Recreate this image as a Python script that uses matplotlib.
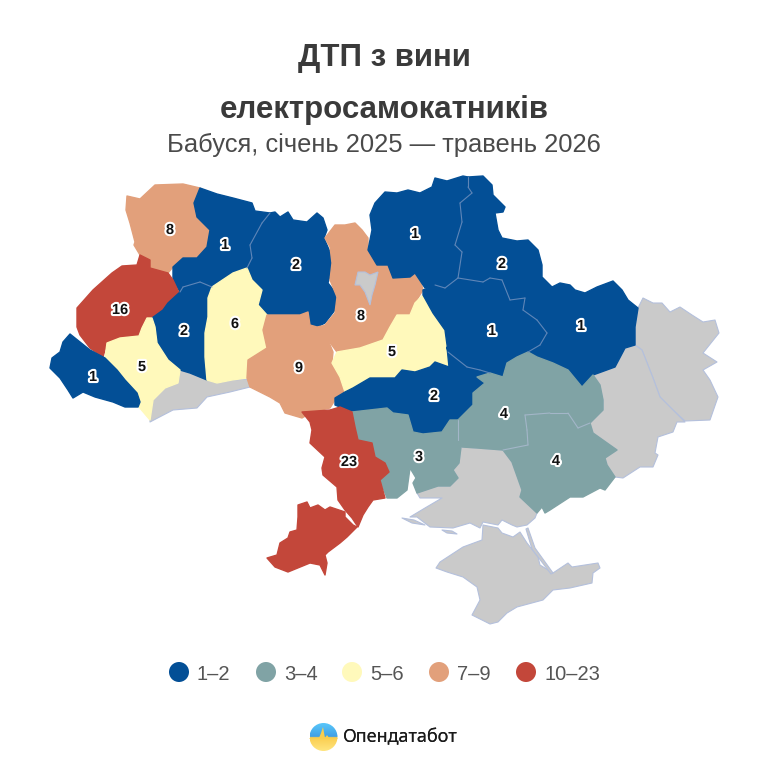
import numpy as np
import matplotlib
matplotlib.use("Agg")
import matplotlib.pyplot as plt
from matplotlib.patches import Polygon, Circle
import matplotlib.patheffects as pe

TITLE = ["ДТП з вини", "електросамокатників"]
SUBTITLE = "Бабуся, січень 2025 — травень 2026"
LEGEND_LABELS = ["1–2", "3–4", "5–6", "7–9", "10–23"]
LEGEND_COLORS = ["#034F96", "#80A3A5", "#FFF9BB", "#E2A07B", "#C3473A"]
INNER_EDGE = ["#5F86B8", "#A3B6C8", "#E8E4B0", "#D9A98C", "#C86A5E"]
NO_DATA = "#CACACA"
EDGE = "#B4C0DC"

# Region outlines (map coordinates)
volyn = [(155,185),(183,184),(200,188),(194,203),(197,217),(210,230),(207,247),(197,258),(183,258),(173,267),(168,273),(150,268),(150,260),(140,255),(134,245),(135,242),(130,223),(126,210),(127,196),(140,199)]
rivne = [(200,188),(217,194),(233,198),(252,203),(255,211),(270,213),(262,223),(250,245),(252,258),(247,268),(233,273),(212,287),(200,282),(183,287),(180,292),(173,280),(173,267),(183,258),(197,258),(207,247),(210,230),(197,217),(194,203)]
zhytomyr = [(270,213),(275,212),(280,217),(288,212),(293,220),(307,222),(317,213),(323,218),(327,230),(324,238),(330,252),(333,265),(328,283),(335,292),(337,302),(335,310),(325,323),(317,327),(310,325),(308,312),(300,315),(267,315),(258,305),(262,290),(252,280),(247,268),(252,258),(250,245),(262,223)]
lviv = [(140,255),(150,260),(150,268),(168,273),(173,280),(180,295),(168,303),(163,310),(152,318),(142,328),(139,336),(120,338),(107,343),(103,357),(90,348),(80,335),(77,327),(77,308),(93,290),(112,273),(122,266),(137,265)]
ternopil = [(180,292),(183,287),(200,282),(212,287),(208,298),(208,317),(205,333),(205,357),(207,380),(190,373),(180,370),(168,360),(157,343),(155,327),(152,318),(163,310),(168,303)]
frankivsk = [(142,328),(147,318),(152,318),(155,327),(157,343),(168,360),(180,370),(178,383),(165,388),(153,400),(150,420),(139,407),(137,393),(125,380),(117,370),(105,358),(107,343),(120,338),(139,336)]
zakarpattia = [(70,334),(80,342),(90,350),(105,358),(117,370),(125,380),(137,393),(140,402),(138,407),(125,407),(113,402),(95,397),(83,392),(73,398),(68,390),(60,378),(50,368),(52,358),(60,352),(63,342)]
chernivtsi = [(180,370),(190,373),(207,380),(217,383),(232,380),(248,379),(250,387),(230,392),(207,397),(197,408),(173,410),(150,422),(150,403),(165,388),(178,383)]
khmelnytskyi = [(247,268),(252,280),(262,290),(258,305),(267,315),(263,330),(267,348),(248,360),(247,378),(232,380),(217,383),(207,380),(205,357),(205,333),(208,317),(208,298),(212,287),(233,273)]
vinnytsia = [(267,315),(300,315),(308,312),(310,325),(317,327),(327,325),(328,340),(333,352),(332,362),(340,373),(345,392),(335,400),(330,408),(312,412),(302,418),(285,413),(280,403),(270,397),(250,387),(247,378),(248,360),(267,348),(263,330)]
kyiv_obl = [(325,238),(335,225),(345,225),(355,223),(362,230),(368,238),(368,250),(377,265),(388,265),(393,278),(410,277),(415,273),(420,278),(423,290),(415,303),(410,315),(397,315),(390,327),(383,340),(360,348),(337,352),(328,340),(325,325),(335,313),(337,297),(330,280),(332,263),(330,247)]
kyiv_city = [(355,285),(358,272),(365,272),(370,275),(378,272),(375,285),(372,295),(370,305),(365,292),(360,285)]
cherkasy = [(423,295),(433,313),(445,330),(447,347),(449,367),(435,362),(430,367),(415,372),(402,370),(395,378),(370,378),(353,388),(345,392),(340,377),(332,363),(337,352),(360,348),(383,340),(390,327),(397,315),(410,315),(415,303)]
chernihiv = [(435,178),(447,181),(463,176),(468,177),(468,187),(472,193),(460,203),(462,222),(455,245),(462,252),(458,278),(445,288),(435,285),(425,288),(415,273),(410,277),(393,278),(388,265),(377,265),(368,250),(372,230),(370,215),(375,203),(385,192),(397,193),(408,190),(420,193),(432,187)]
sumy = [(468,177),(483,176),(492,185),(493,195),(505,207),(503,212),(495,213),(498,230),(502,238),(517,241),(528,240),(538,250),(542,265),(542,277),(552,287),(527,298),(510,300),(502,280),(490,278),(483,282),(458,278),(462,252),(455,245),(462,222),(460,203),(472,193),(468,187)]
poltava = [(423,290),(435,285),(445,288),(458,278),(483,282),(490,278),(502,280),(510,300),(525,298),(523,310),(537,320),(547,333),(540,345),(528,352),(517,357),(507,363),(503,377),(490,373),(480,370),(467,367),(448,352),(445,330),(433,313),(423,295)]
kharkiv = [(510,300),(525,298),(552,287),(560,283),(570,285),(575,290),(585,293),(597,287),(613,281),(622,290),(628,300),(638,308),(635,327),(635,345),(625,348),(615,367),(593,375),(582,387),(568,370),(553,363),(537,357),(528,352),(540,345),(547,333),(537,320),(523,310),(525,298)]
kirovohrad = [(447,347),(448,352),(467,367),(480,370),(490,373),(477,377),(485,383),(473,393),(473,405),(458,420),(450,420),(442,432),(423,434),(413,432),(408,415),(393,413),(387,408),(352,412),(335,405),(335,398),(345,392),(353,388),(370,378),(395,378),(402,370),(415,372),(430,367),(435,362),(449,367)]
dnipro = [(528,352),(517,357),(507,363),(503,377),(490,373),(477,377),(485,383),(473,393),(473,405),(458,420),(458,440),(462,447),(477,448),(503,450),(528,445),(527,430),(525,415),(550,413),(568,413),(578,428),(590,423),(603,410),(603,400),(600,385),(593,375),(582,387),(568,370),(553,363),(537,357)]
zaporizhzhia = [(528,445),(503,450),(512,462),(522,490),(520,497),(537,513),(542,507),(545,513),(550,510),(570,497),(583,497),(600,488),(605,490),(615,477),(607,465),(605,458),(617,450),(593,433),(590,423),(578,428),(568,413),(550,413),(525,415),(527,430)]
mykolaiv = [(352,412),(387,408),(393,413),(408,415),(413,432),(423,434),(442,432),(450,420),(458,420),(458,440),(461,447),(459,463),(453,470),(458,478),(450,486),(438,486),(417,493),(413,483),(416,478),(410,468),(407,490),(397,498),(387,498),(380,480),(389,472),(385,463),(375,457),(372,443),(358,440),(355,427)]
odesa_north = [(302,412),(330,410),(340,407),(352,412),(355,427),(358,440),(372,443),(375,457),(385,463),(389,472),(380,480),(385,498),(373,500),(368,507),(363,515),(358,527),(352,518),(345,510),(338,500),(337,487),(323,475),(322,468),(325,457),(310,443),(312,430),(310,422)]
odesa_south = [(298,505),(307,502),(310,508),(318,505),(325,510),(330,507),(345,512),(345,517),(353,525),(357,527),(347,537),(340,543),(328,552),(325,555),(327,563),(325,575),(320,565),(310,563),(288,572),(275,567),(267,558),(277,555),(280,543),(288,538),(290,532),(297,530),(298,517)]
kherson = [(461,447),(477,448),(503,450),(512,462),(522,490),(520,497),(537,513),(535,518),(527,525),(517,527),(512,525),(502,520),(498,525),(483,522),(480,528),(470,523),(453,528),(430,527),(417,517),(410,517),(425,508),(442,498),(420,498),(417,493),(438,486),(450,486),(458,478),(453,470),(459,463)]
crimea = [(483,525),(498,528),(502,533),(513,537),(520,532),(527,543),(538,557),(540,565),(553,573),(568,563),(572,567),(598,563),(600,568),(593,573),(592,583),(570,588),(553,590),(543,600),(517,607),(507,613),(498,622),(490,624),(472,615),(480,600),(477,587),(463,577),(447,572),(436,568),(440,562),(463,547),(482,540)]
luhansk = [(643,298),(653,303),(662,303),(670,312),(680,307),(692,315),(703,322),(715,320),(719,333),(703,353),(717,362),(703,370),(710,380),(718,397),(710,420),(685,421),(673,410),(660,397),(653,378),(642,350),(635,345),(635,327),(638,308)]
donetsk = [(635,345),(642,350),(653,378),(660,397),(673,410),(685,422),(677,422),(673,432),(658,437),(655,453),(658,455),(653,467),(640,467),(623,478),(615,477),(607,465),(605,458),(617,450),(593,433),(590,423),(603,410),(603,400),(600,385),(593,375),(615,367),(625,348)]
arabat_spit = [(528,528),(535,548),(553,573),(551,574),(532,549),(526,529)]
tendra_spit = [(402,518),(414,520),(425,525),(412,523)]
dzharylhach = [(442,530),(452,531),(457,534),(447,533)]

GRAY_REGIONS = [chernivtsi, kherson, crimea, luhansk, donetsk, arabat_spit, tendra_spit, dzharylhach]
REGIONS = [volyn, rivne, zhytomyr, lviv, ternopil, frankivsk, zakarpattia, khmelnytskyi, vinnytsia,
           kyiv_obl, cherkasy, chernihiv, sumy, poltava, kharkiv, kirovohrad, dnipro, zaporizhzhia,
           mykolaiv, odesa_north, odesa_south]
REGION_CLASS = [3, 0, 0, 4, 0, 2, 0, 2, 3,
                3, 2, 0, 0, 0, 0, 0, 1, 1,
                1, 4, 4]

VALUES = [8, 1, 2, 1, 2, 1, 1, 16, 2, 6, 9, 8, 5, 5, 1, 2, 4, 3, 4, 23]
VALUE_X = [170, 225, 296, 415, 502, 492, 581, 120, 184, 235, 299, 361, 392, 142, 93, 434, 504, 419, 556, 349]
VALUE_Y = [230, 245, 265, 234, 264, 331, 326, 310, 331, 324, 368, 316, 352, 367, 377, 396, 414, 457, 461, 462]

plt.rcParams['font.family'] = ['Liberation Sans', 'DejaVu Sans']
fig = plt.figure(figsize=(7.68, 7.68), dpi=100, facecolor='white')
ax = fig.add_axes([0, 0, 1, 1])
ax.set_xlim(0, 768)
ax.set_ylim(768, 0)
ax.axis('off')

for poly in GRAY_REGIONS:
    ax.add_patch(Polygon(poly, closed=True, fc=NO_DATA, ec=EDGE, lw=0.8, joinstyle='round', zorder=1))
for poly, cls in zip(REGIONS, REGION_CLASS):
    ax.add_patch(Polygon(poly, closed=True, fc=LEGEND_COLORS[cls], ec=LEGEND_COLORS[cls], lw=1.0,
                         joinstyle='round', zorder=2))
ax.add_patch(Polygon(kyiv_city, closed=True, fc=NO_DATA, ec=EDGE, lw=0.8, zorder=3))

# thin borders between neighbours that share a colour
for i, (a, ca) in enumerate(zip(REGIONS, REGION_CLASS)):
    for b, cb in list(zip(REGIONS, REGION_CLASS))[i + 1:]:
        if ca != cb:
            continue
        bset = set(b)
        for p, q in zip(a, a[1:] + a[:1]):
            if p in bset and q in bset:
                ax.plot([p[0], q[0]], [p[1], q[1]], color=INNER_EDGE[ca], lw=0.8, zorder=3,
                        solid_capstyle='round')

for v, x, y in zip(VALUES, VALUE_X, VALUE_Y):
    ax.text(x, y, str(v), ha='center', va='center', fontsize=10.5, fontweight='bold', color='#111111', zorder=5,
            path_effects=[pe.withStroke(linewidth=3, foreground='white')])

ax.text(384, 58, TITLE[0], ha='center', va='center', fontsize=22.5, fontweight='bold', color='#3A3A3A')
ax.text(384, 110, TITLE[1], ha='center', va='center', fontsize=22.5, fontweight='bold', color='#3A3A3A')
ax.text(384, 145, SUBTITLE, ha='center', va='center', fontsize=18.4, color='#4A4A4A')

LEG_CX = [179, 266, 352, 439, 526]
for cx, lab, col in zip(LEG_CX, LEGEND_LABELS, LEGEND_COLORS):
    ax.add_patch(Circle((cx, 672), 10, fc=col, ec='none'))
    ax.text(cx + 18, 675, lab, ha='left', va='center', fontsize=14.5, color='#555555')

# logo
logo_cx, logo_cy, logo_r = 323.5, 737, 14
n = 80
img = np.zeros((n, 1, 4))
blue_a, blue_b = np.array([0.35, 0.78, 0.98]), np.array([0.25, 0.62, 0.90])
yel_a, yel_b = np.array([1.0, 0.90, 0.50]), np.array([0.98, 0.80, 0.30])
for i in range(n):
    f = i / (n - 1)
    img[i, 0, :3] = (blue_a + (blue_b - blue_a) * f * 2) if f < 0.5 else (yel_b + (yel_a - yel_b) * (f - 0.5) * 2)
    img[i, 0, 3] = 1
im = ax.imshow(img, extent=(logo_cx - logo_r, logo_cx + logo_r, logo_cy + logo_r, logo_cy - logo_r),
               aspect='auto', zorder=6, interpolation='bilinear')
im.set_clip_path(Circle((logo_cx, logo_cy), logo_r, transform=ax.transData))
ax.set_xlim(0, 768)
ax.set_ylim(768, 0)
pulse = Polygon([(309, 738), (319, 738), (321, 733), (323, 727), (325, 738), (327, 735), (329, 738), (338, 738), (338, 739), (309, 739)],
                closed=True, fc='#F9CE4E', ec='none', zorder=7)
ax.add_patch(pulse)
pulse.set_clip_path(Circle((logo_cx, logo_cy), logo_r, transform=ax.transData))

for dx in (0, 0.35):
    ax.text(343 + dx, 737, "Опендатабот", ha='left', va='center', fontsize=13.0, fontweight='bold',
            family=['Noto Sans', 'DejaVu Sans'], color='#1A1A1A')

fig.savefig('out.png', dpi=100, facecolor='white')
